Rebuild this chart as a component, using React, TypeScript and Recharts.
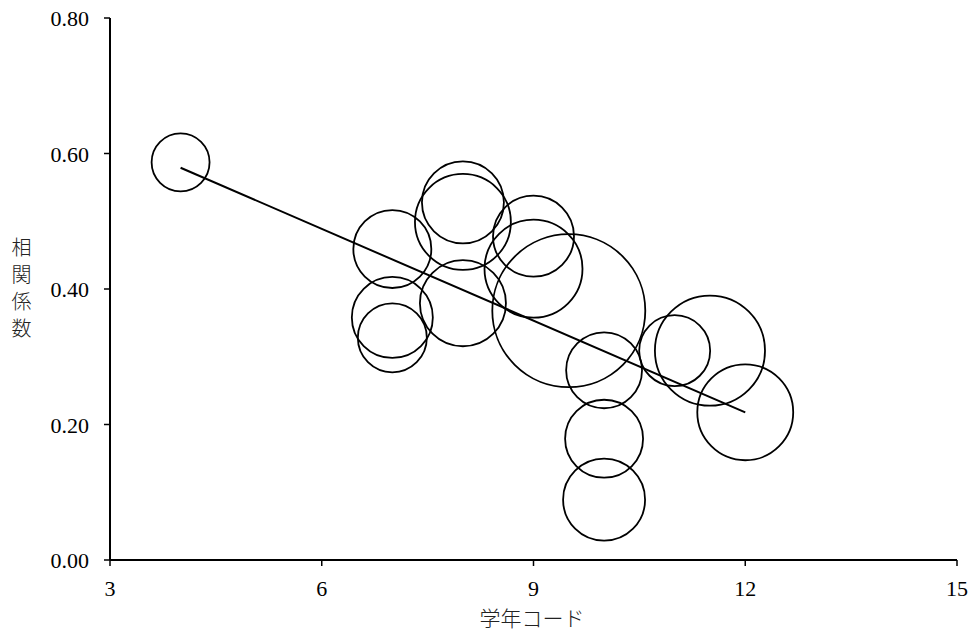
import React from 'react';
import { ScatterChart, Scatter, XAxis, YAxis, ZAxis } from 'recharts';

// 学年コード, 相関係数, バブルの大きさ
const gradeCodes = [4, 7, 7, 7, 8, 8, 8, 9, 9, 9.5, 10, 10, 10, 11, 11.5, 12];
const correlations = [0.587, 0.459, 0.358, 0.328, 0.528, 0.499, 0.379, 0.478, 0.43, 0.368, 0.28, 0.179, 0.089, 0.309, 0.309, 0.218];
const bubbleSizes = [8.4, 15.2, 16.4, 11.9, 16.8, 23.0, 18.5, 16.4, 24.0, 58.5, 14.4, 15.2, 16.8, 12.6, 30.3, 23.0];

const trendX = [4, 12];
const trendY = [0.579, 0.218];

const xTicks = [3, 6, 9, 12, 15];
const yTicks = [0, 0.2, 0.4, 0.6, 0.8];

const yTitle = ['相', '関', '係', '数'];
const xTitle = '学年コード';

const bubbles = gradeCodes.map((x, i) => ({ x, y: correlations[i], z: bubbleSizes[i] }));
const trend = trendX.map((x, i) => ({ x, y: trendY[i] }));

const serif = '"Liberation Serif", "Times New Roman", serif';
const jp = '"Noto Sans CJK JP", sans-serif';

const XTick = (props: any) => {
    const { x, y, payload } = props;
    return (
        <text x={x} y={y + 28} textAnchor="middle" fontFamily={serif} fontSize={22} fill="#000">
            {payload.value}
        </text>
    );
};

const YTick = (props: any) => {
    const { x, y, payload } = props;
    return (
        <text x={x - 13} y={y + 8} textAnchor="end" fontFamily={serif} fontSize={22} fill="#000">
            {Number(payload.value).toFixed(2)}
        </text>
    );
};

// 縦書き風のラベル（1文字ずつ）
const YLabel = () => (
    <g>
        {yTitle.map((ch, i) => (
            <text key={i} x={21.5} y={255 + i * 27} fontFamily={jp} fontSize={20} fontWeight={300} fill="#222" textAnchor="middle">
                {ch}
            </text>
        ))}
    </g>
);

const XLabel = () => (
    <text x={532} y={626} fontFamily={jp} fontSize={21} fontWeight={300} fill="#222" textAnchor="middle">
        {xTitle}
    </text>
);

export default function App() {
    return (
        <div style={{ position: 'absolute', left: 0, top: 0, width: 975, height: 638, background: '#fff' }}>
            <ScatterChart width={975} height={638} margin={{ top: 18, right: 18, left: 50, bottom: 28 }}>
                <XAxis
                    type="number"
                    dataKey="x"
                    domain={[3, 15]}
                    ticks={xTicks}
                    height={50}
                    axisLine={{ stroke: '#000', strokeWidth: 2 }}
                    tickLine={{ stroke: '#000', strokeWidth: 1.5 }}
                    tickSize={6}
                    tick={<XTick />}
                    label={<XLabel />}
                />
                <YAxis
                    type="number"
                    dataKey="y"
                    domain={[0, 0.8]}
                    ticks={yTicks}
                    width={60}
                    axisLine={{ stroke: '#000', strokeWidth: 2 }}
                    tickLine={{ stroke: '#000', strokeWidth: 1.5 }}
                    tickSize={6}
                    tick={<YTick />}
                    label={<YLabel />}
                />
                <ZAxis type="number" dataKey="z" domain={[0, 60]} range={[0, 6000 * Math.PI]} />
                <Scatter
                    data={bubbles}
                    fill="none"
                    stroke="#000"
                    strokeWidth={1.8}
                    isAnimationActive={false}
                />
                <Scatter
                    data={trend}
                    line={{ stroke: '#000', strokeWidth: 2 }}
                    shape={() => <g />}
                    isAnimationActive={false}
                />
            </ScatterChart>
        </div>
    );
}
